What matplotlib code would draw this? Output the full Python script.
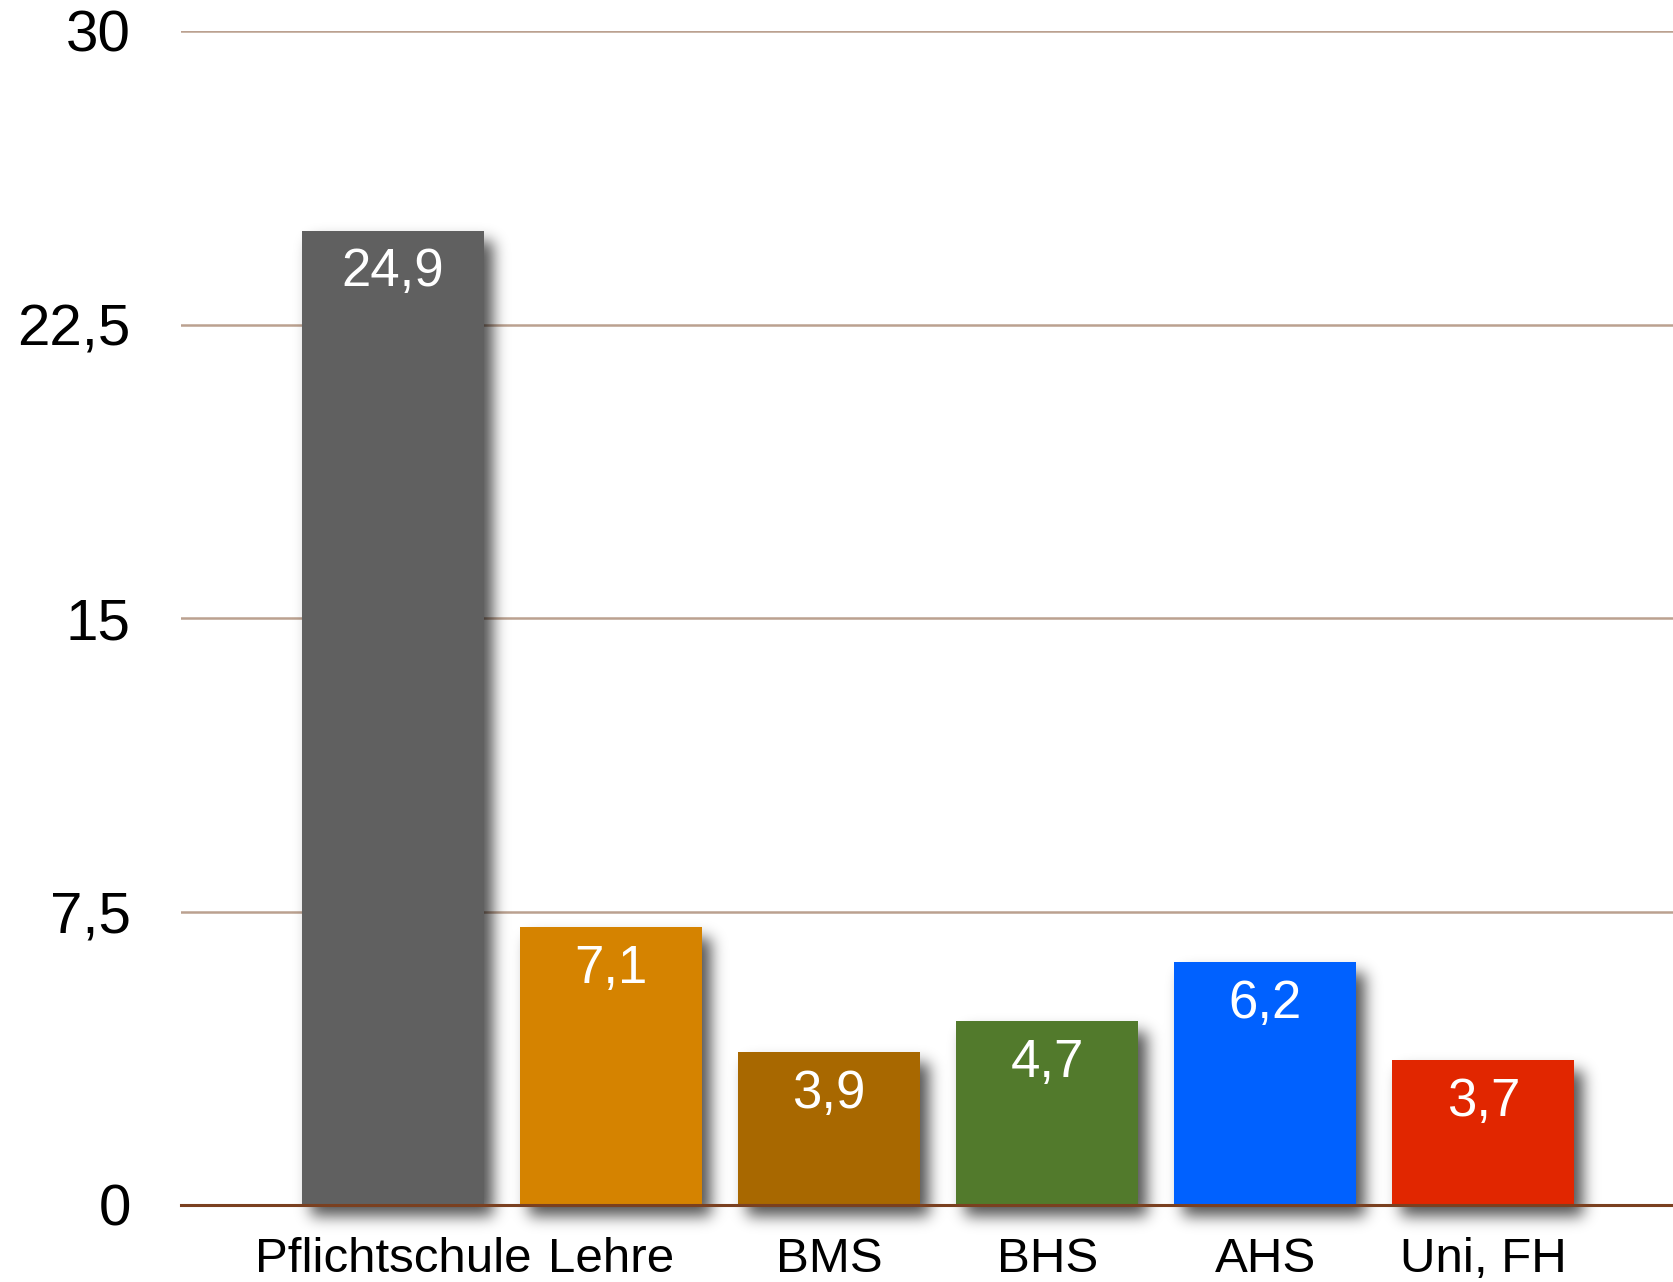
import matplotlib
matplotlib.use("Agg")
import numpy as np
import matplotlib.pyplot as plt

# data
categories = ["Pflichtschule", "Lehre", "BMS", "BHS", "AHS", "Uni, FH"]
values = [24.9, 7.1, 3.9, 4.7, 6.2, 3.7]
value_labels = ["24,9", "7,1", "3,9", "4,7", "6,2", "3,7"]
bar_colors = ["#606060", "#d58300", "#a86800", "#527a2c", "#0061ff", "#e12600"]
yticks = [0, 7.5, 15, 22.5, 30]
ytick_labels = ["0", "7,5", "15", "22,5", "30"]

plt.rcParams['font.family'] = ['Liberation Sans', 'DejaVu Sans']

W, H, DPI = 1673, 1282, 100
fig = plt.figure(figsize=(W / DPI, H / DPI), dpi=DPI)
# axes box in pixels: left 181, right 1673, bottom 1205 (y=0), top 31 (y=30)
ax = fig.add_axes([181 / W, (H - 1205) / H, (1673 - 181) / W, (1205 - 31) / H])

x = np.arange(len(categories))
width = 0.835
x0, x1 = -0.972, 5.87
ax.set_xlim(x0, x1)
ax.set_ylim(0, 30)

# px per data unit
px_x = (1673 - 181) / (x1 - x0)
px_y = (1205 - 31) / 30.0

# blurred drop shadow as an image (offset right/down, gaussian blur)
y_lo, y_hi = -2.5, 30
nx = int((x1 - x0) * px_x)
ny = int((y_hi - y_lo) * px_y)
xs = x0 + (np.arange(nx) + 0.5) / px_x
ys = y_hi - (np.arange(ny) + 0.5) / px_y
dx, dy = 9 / px_x, -10 / px_y
mask = np.zeros((ny, nx))
for xi, v in zip(x, values):
    inx = np.abs(xs - (xi + dx)) < width / 2
    iny = (ys > dy) & (ys < v + dy)
    mask[np.ix_(iny, inx)] = 1.0

sigma = 7.5
k = np.arange(-24, 25)
kern = np.exp(-0.5 * (k / sigma) ** 2)
kern /= kern.sum()
blur = np.apply_along_axis(lambda r: np.convolve(r, kern, mode="same"), 1, mask)
blur = np.apply_along_axis(lambda c: np.convolve(c, kern, mode="same"), 0, blur)

shadow = np.zeros((ny, nx, 4))
shadow[..., 3] = 0.68 * blur
ax.imshow(shadow, extent=(x0, x1, y_lo, y_hi), aspect="auto", zorder=2,
          interpolation="nearest", clip_on=False)
ax.set_xlim(x0, x1)
ax.set_ylim(0, 30)

ax.bar(x, values, width=width, color=bar_colors, zorder=3)

for xi, v, lab in zip(x, values, value_labels):
    ax.annotate(lab, (xi, v), xytext=(0, -30), textcoords="offset points",
                ha="center", va="center", color="white", fontsize=38, zorder=4)

# grid
for t in yticks[1:]:
    ax.axhline(t, color="#bba190", lw=1.8, zorder=1)
ax.axhline(0, color="#7a4020", lw=2.2, zorder=5, clip_on=False)

ax.set_yticks(yticks)
ax.set_yticklabels(ytick_labels, fontsize=42)
ax.set_xticks(x)
ax.set_xticklabels(categories, fontsize=35.5)
ax.tick_params(axis="y", length=0, pad=36)
ax.tick_params(axis="x", length=0, pad=23)
for s in ax.spines.values():
    s.set_visible(False)

fig.savefig("out.png", dpi=DPI, facecolor="white")
